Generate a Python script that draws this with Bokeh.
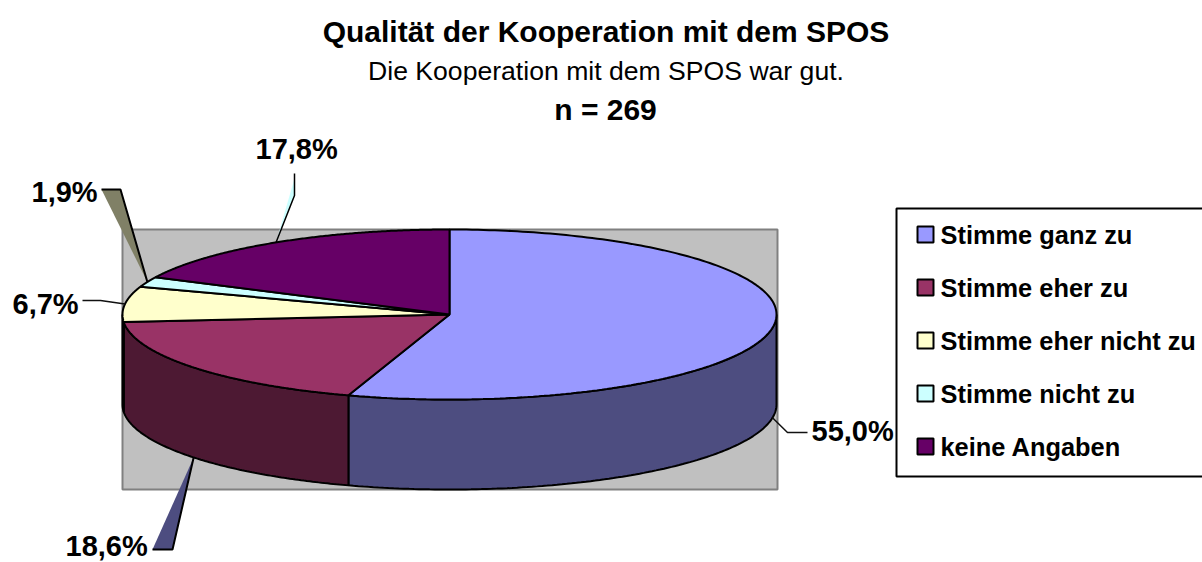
import numpy as np
from bokeh.plotting import figure
from bokeh.models import Range1d
from bokeh.core.properties import value
from bokeh.embed import file_html
from bokeh.resources import INLINE

categories = ["Stimme ganz zu", "Stimme eher zu", "Stimme eher nicht zu", "Stimme nicht zu", "keine Angaben"]
values = [55.0, 18.6, 6.7, 1.9, 17.8]
value_labels = ["55,0%", "18,6%", "6,7%", "1,9%", "17,8%"]
top_colors = ["#9999FF", "#993366", "#FFFFCC", "#CCFFFF", "#660066"]
side_colors = ["#4D4D80", "#4D1933", "#808066", "#668080", "#330033"]
title = "Qualität der Kooperation mit dem SPOS"
subtitle = "Die Kooperation mit dem SPOS war gut."
n_label = "n = 269"

FONT = value("Liberation Sans")
CX, CY, RX, RY, DEPTH = 449.0, 314.0, 327.0, 85.0, 90.0

p = figure(width=1202, height=562, output_backend="svg", toolbar_location=None,
           x_range=Range1d(0, 1202), y_range=Range1d(562, 0),
           min_border=0, outline_line_color=None, background_fill_color="white")
p.axis.visible = False
p.grid.visible = False

def ell(theta):
    return CX + RX * np.sin(theta), CY - RY * np.cos(theta)

# plot-area backdrop
p.quad(left=122, right=777, top=229, bottom=489, fill_color="#C0C0C0", line_color="#808080", line_width=2)

fracs = np.array(values) / sum(values)
edges = np.concatenate([[0], np.cumsum(fracs)]) * 2 * np.pi

# sides
for i in range(len(values)):
    a, b = max(edges[i], np.pi / 2), min(edges[i + 1], 3 * np.pi / 2)
    if b <= a:
        continue
    t = np.linspace(a, b, 120)
    x, y = ell(t)
    xs = np.concatenate([x, x[::-1]])
    ys = np.concatenate([y, (y + DEPTH)[::-1]])
    p.patch(xs, ys, fill_color=side_colors[i], line_color="black", line_width=2)

# tops
for i in range(len(values)):
    t = np.linspace(edges[i], edges[i + 1], 200)
    x, y = ell(t)
    p.patch(np.concatenate([[CX], x]), np.concatenate([[CY], y]),
            fill_color=top_colors[i], line_color="black", line_width=2)

# leader lines, anchored on slice mid-angles
mids = (edges[:-1] + edges[1:]) / 2
tips = [ell(m) for m in mids]
tip55 = (tips[0][0], tips[0][1] + DEPTH)
tip18 = (tips[1][0], tips[1][1] + DEPTH)
tip67, tip19, tip178 = tips[2], tips[3], tips[4]

# 55,0 %
p.line([tip55[0], 787, 807], [tip55[1], 432, 432], line_color="#111111", line_width=1.5)
# 18,6 %
p.patch([tip18[0], 152, 172], [tip18[1], 549, 549], fill_color=side_colors[0], line_color=None)
p.line([tip18[0], 172, 152], [tip18[1], 549, 549], line_color="black", line_width=2)
# 6,7 %
p.line([tip67[0], 100, 82], [tip67[1], 300, 300], line_color="#111111", line_width=1.5)
# 1,9 %
p.patch([tip19[0], 101, 120], [tip19[1], 189, 189], fill_color="#808066", line_color=None)
p.line([tip19[0], 120, 101], [tip19[1], 189, 189], line_color="black", line_width=2)
# 17,8 %
p.patch([tip178[0], 294, 294], [tip178[1], 178, 195], fill_color="#CCFFFF", line_color=None)
p.line([tip178[0], 294, 294], [tip178[1], 195, 173], line_color="black", line_width=1.5)

# value labels
lab_x = [811, 65, 12, 31, 255]
lab_y = [430, 545, 303, 191, 148]
p.text(lab_x, lab_y, text=value_labels, text_font=FONT, text_font_style="bold", text_font_size="29px",
       text_baseline="middle", text_align="left", text_color="black")

# titles
p.text([605.5], [31], text=[title], text_font=FONT, text_font_style="bold", text_font_size="30px",
       text_baseline="middle", text_align="center", text_color="black")
p.text([605.5], [70], text=[subtitle], text_font=FONT, text_font_size="26.6px",
       text_baseline="middle", text_align="center", text_color="black")
p.text([605], [109], text=[n_label], text_font=FONT, text_font_style="bold", text_font_size="30px",
       text_baseline="middle", text_align="center", text_color="black")

# legend
p.line([1210, 896, 896, 1210], [208, 208, 476, 476], line_color="black", line_width=2)
leg_y = [234, 287, 340, 393, 446]
p.scatter([925] * 5, leg_y, marker="square", size=16, fill_color=top_colors, line_color="black", line_width=2)
p.text([940] * 5, leg_y, text=categories, text_font=FONT, text_font_style="bold", text_font_size="25.4px",
       text_baseline="middle", text_align="left", text_color="black")

open("out.html", "w").write(file_html(p, INLINE))
